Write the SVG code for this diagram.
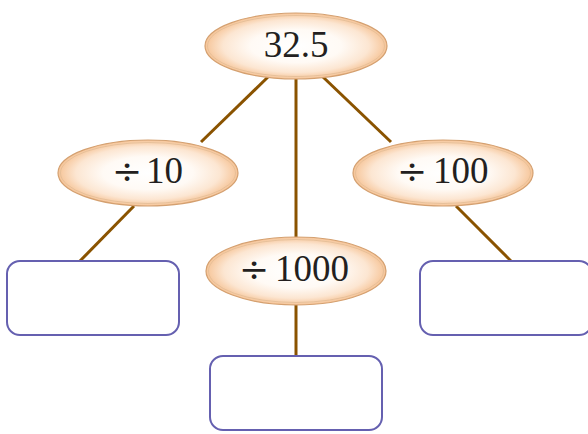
<svg xmlns="http://www.w3.org/2000/svg" width="588" height="434" viewBox="0 0 588 434">
<defs>
<radialGradient id="g" cx="50%" cy="50%" r="50%">
<stop offset="0" stop-color="#ffffff"/>
<stop offset="0.5" stop-color="#fffaf5"/>
<stop offset="0.8" stop-color="#fce6d2"/>
<stop offset="1" stop-color="#f6c497"/>
</radialGradient>
</defs>
<style>
.e{fill:url(#g);stroke:#d4a070;stroke-width:1.2}
.ei{fill:none;stroke:#e2bc96;stroke-width:0.8}
.b{fill:#fff;stroke:#6560b0;stroke-width:2}
.c{stroke:#8a5300;stroke-width:3;fill:none}
.t{font-family:"Liberation Serif","DejaVu Serif",serif;font-size:37px;fill:#231f20}
.d{font-family:"DejaVu Serif",serif;font-size:36px}
</style>
<rect width="588" height="434" fill="#fff"/>
<g id="connectors">
<line class="c" x1="268" y1="77" x2="201" y2="142"/>
<line class="c" x1="296" y1="79" x2="296" y2="237"/>
<line class="c" x1="323" y1="77" x2="391" y2="142"/>
<line class="c" x1="134" y1="206" x2="79" y2="262"/>
<line class="c" x1="456" y1="206" x2="512" y2="262"/>
<line class="c" x1="296" y1="305" x2="296" y2="356"/>
</g>
<g id="n325">
<ellipse class="e" cx="296" cy="46" rx="91" ry="33"/>
<ellipse class="ei" cx="296" cy="46" rx="88.5" ry="30.5"/>
<text class="t" x="296" y="57" text-anchor="middle">32.5</text>
</g>
<g id="n10">
<ellipse class="e" cx="148" cy="173" rx="90" ry="33"/>
<ellipse class="ei" cx="148" cy="173" rx="87.5" ry="30.5"/>
<text class="t" y="183"><tspan class="d" x="112">÷</tspan><tspan x="146">10</tspan></text>
</g>
<g id="n100">
<ellipse class="e" cx="443" cy="173" rx="90" ry="33"/>
<ellipse class="ei" cx="443" cy="173" rx="87.5" ry="30.5"/>
<text class="t" y="183"><tspan class="d" x="397">÷</tspan><tspan x="433">100</tspan></text>
</g>
<g id="n1000">
<ellipse class="e" cx="296" cy="271" rx="90" ry="34"/>
<ellipse class="ei" cx="296" cy="271" rx="87.5" ry="31.5"/>
<text class="t" y="281"><tspan class="d" x="239">÷</tspan><tspan x="275">1000</tspan></text>
</g>
<g id="box1"><rect class="b" x="7" y="261" width="172" height="74" rx="13"/></g>
<g id="box2"><rect class="b" x="210" y="356" width="172" height="74" rx="13"/></g>
<g id="box3"><rect class="b" x="420" y="261" width="172" height="74" rx="13"/></g>
</svg>
